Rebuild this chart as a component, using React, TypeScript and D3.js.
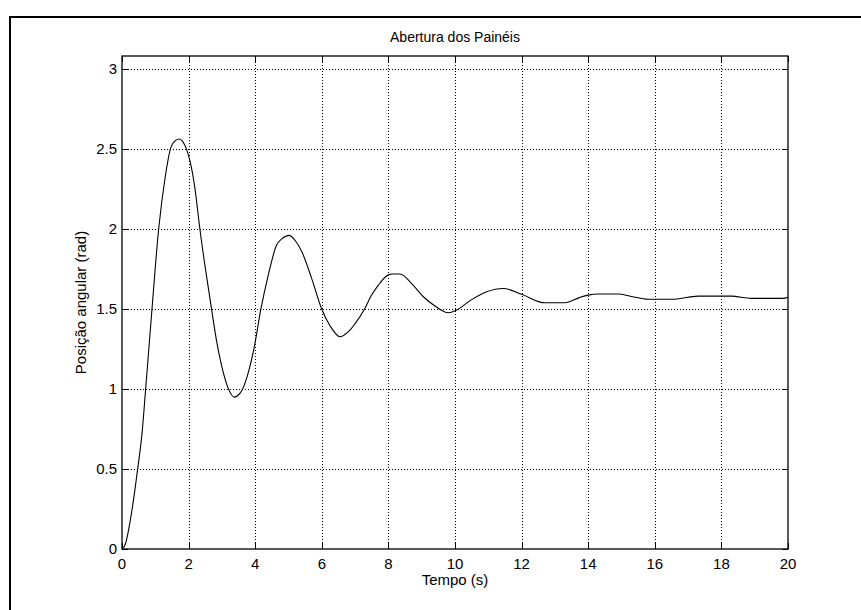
import React, { useEffect, useRef } from "react";
import * as d3 from "d3";

const TITLE = "Abertura dos Painéis";
const X_LABEL = "Tempo (s)";
const Y_LABEL = "Posição angular (rad)";

const xTicks = [0, 2, 4, 6, 8, 10, 12, 14, 16, 18, 20];
const yTicks = [0, 0.5, 1, 1.5, 2, 2.5, 3];
const yTickLabels = ["0", "0.5", "1", "1.5", "2", "2.5", "3"];

const time = [
  0, 0.1, 0.25, 0.47, 0.6, 0.71, 0.9, 1.1, 1.3, 1.45, 1.6, 1.72, 1.82, 1.94, 2.1,
  2.2, 2.34, 2.5, 2.69, 2.85, 3.0, 3.2, 3.37, 3.5, 3.62, 3.8, 3.96, 4.17, 4.4, 4.64, 4.8,
  5.02, 5.2, 5.4, 5.7, 6.0, 6.25, 6.55, 6.85, 7.0, 7.28, 7.5, 7.7, 7.9, 8.1, 8.35,
  8.7, 9.05, 9.4, 9.8, 10.05, 10.5, 10.95, 11.45, 12.0, 12.7, 13.3, 13.75, 14.0, 14.3,
  14.9, 15.3, 15.8, 16.5, 17.3, 18.3, 18.9, 19.85, 20,
];
const position = [
  0, 0.03, 0.18, 0.5, 0.72, 1.0, 1.5, 2.0, 2.33, 2.5, 2.555, 2.565, 2.55, 2.5, 2.37,
  2.24, 2.0, 1.76, 1.5, 1.29, 1.14, 1.0, 0.95, 0.965, 1.0, 1.11, 1.25, 1.5, 1.72, 1.9, 1.94,
  1.962, 1.93, 1.86, 1.69, 1.5, 1.395, 1.328, 1.37, 1.41, 1.5, 1.59, 1.65, 1.7, 1.72, 1.72,
  1.66, 1.578, 1.52, 1.478, 1.495, 1.56, 1.609, 1.63, 1.593, 1.54, 1.54, 1.574, 1.588, 1.595,
  1.595, 1.58, 1.562, 1.562, 1.582, 1.582, 1.568, 1.568, 1.574,
];

const W = 861;
const H = 610;
const M = { left: 122, right: 73, top: 56, bottom: 61 };
const FONT = "'Liberation Sans', Arial, Helvetica, sans-serif";

export default function App() {
  const ref = useRef<SVGSVGElement | null>(null);

  useEffect(() => {
    const svg = d3.select(ref.current);
    svg.selectAll("*").remove();

    const x = d3.scaleLinear().domain([0, 20]).range([M.left, W - M.right]);
    const y = d3.scaleLinear().domain([0, 3.084]).range([H - M.bottom, M.top]);
    const x0 = x(0), x1 = x(20), y0 = y(0), y1 = y(3.084);

    svg.append("rect").attr("x", 0).attr("y", 0).attr("width", W).attr("height", H).attr("fill", "#fff");

    // outer frame
    svg.append("path")
      .attr("d", `M10,${H + 5} L10,17 L${W + 5},17`)
      .attr("fill", "none").attr("stroke", "#000").attr("stroke-width", 2);

    const g = svg.append("g");

    // grid
    g.selectAll(".gx").data(xTicks.slice(1, -1)).enter().append("line")
      .attr("x1", (d) => Math.round(x(d)) + 0.5).attr("x2", (d) => Math.round(x(d)) + 0.5)
      .attr("y1", y1).attr("y2", y0)
      .attr("stroke", "#000").attr("stroke-width", 1).attr("stroke-dasharray", "1,2");
    g.selectAll(".gy").data(yTicks.slice(1)).enter().append("line")
      .attr("y1", (d) => Math.round(y(d)) + 0.5).attr("y2", (d) => Math.round(y(d)) + 0.5)
      .attr("x1", x0).attr("x2", x1)
      .attr("stroke", "#000").attr("stroke-width", 1).attr("stroke-dasharray", "1,2");

    // ticks (inward)
    const tl = 6;
    xTicks.forEach((d) => {
      const px = Math.round(x(d)) + 0.5;
      g.append("line").attr("x1", px).attr("x2", px).attr("y1", y0).attr("y2", y0 - tl).attr("stroke", "#000");
      g.append("line").attr("x1", px).attr("x2", px).attr("y1", y1).attr("y2", y1 + tl).attr("stroke", "#000");
    });
    yTicks.forEach((d) => {
      const py = Math.round(y(d)) + 0.5;
      g.append("line").attr("x1", x0).attr("x2", x0 + tl).attr("y1", py).attr("y2", py).attr("stroke", "#000");
      g.append("line").attr("x1", x1).attr("x2", x1 - tl).attr("y1", py).attr("y2", py).attr("stroke", "#000");
    });

    // box
    g.append("rect").attr("x", x0).attr("y", y1).attr("width", x1 - x0).attr("height", y0 - y1)
      .attr("fill", "none").attr("stroke", "#000").attr("stroke-width", 1.3);

    // curve
    const pts = time.map((t, i) => [t, position[i]] as [number, number]);
    const line = d3.line<[number, number]>().x((d) => x(d[0])).y((d) => y(d[1])).curve(d3.curveMonotoneX);
    g.append("path").attr("d", line(pts) || "").attr("fill", "none").attr("stroke", "#000").attr("stroke-width", 1.1);

    // tick labels
    g.selectAll(".xl").data(xTicks).enter().append("text")
      .attr("x", (d) => x(d)).attr("y", y0 + 20)
      .attr("text-anchor", "middle").attr("font-family", FONT).attr("font-size", 15)
      .text((d) => String(d));
    g.selectAll(".yl").data(yTicks).enter().append("text")
      .attr("x", x0 - 5).attr("y", (d) => y(d) + 5)
      .attr("text-anchor", "end").attr("font-family", FONT).attr("font-size", 15)
      .text((d, i) => yTickLabels[i]);

    svg.append("text").attr("x", (x0 + x1) / 2).attr("y", 42)
      .attr("text-anchor", "middle").attr("font-family", FONT).attr("font-size", 14).text(TITLE);
    svg.append("text").attr("x", (x0 + x1) / 2).attr("y", 585)
      .attr("text-anchor", "middle").attr("font-family", FONT).attr("font-size", 15).text(X_LABEL);
    svg.append("text").attr("transform", `translate(86,${(y0 + y1) / 2}) rotate(-90)`)
      .attr("text-anchor", "middle").attr("font-family", FONT).attr("font-size", 15).text(Y_LABEL);
  }, []);

  return (
    <svg ref={ref} width={W} height={H} style={{ position: "absolute", left: 0, top: 0, display: "block" }} />
  );
}
